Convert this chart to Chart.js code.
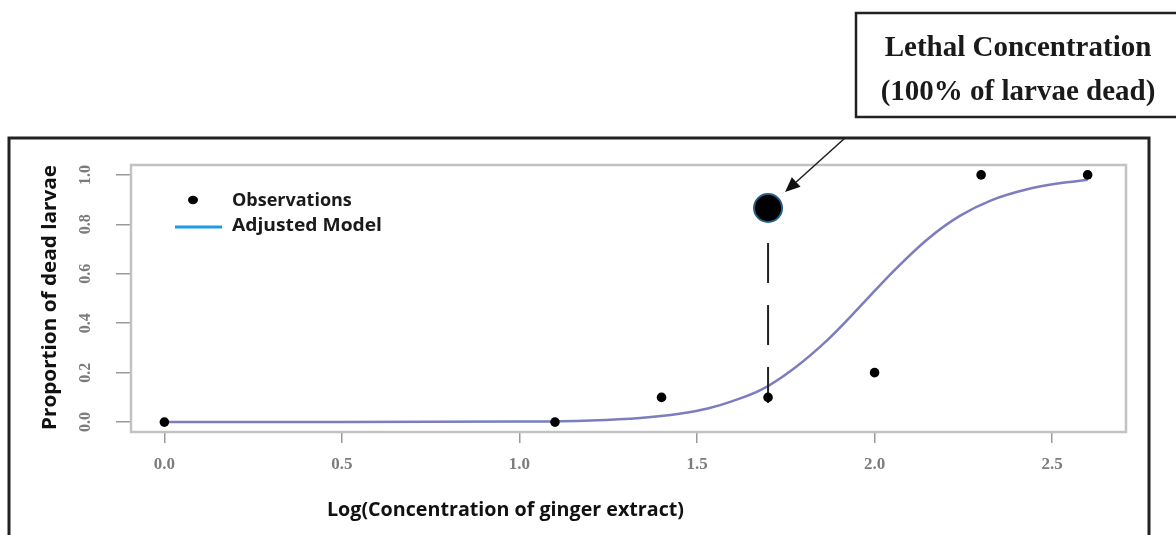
<!DOCTYPE html>
<html><head><meta charset="utf-8">
<script src="https://cdn.jsdelivr.net/npm/chart.js@4.4.1/dist/chart.umd.min.js"></script>
<style>html,body{margin:0;padding:0;background:#fff;}canvas{display:block;}</style>
</head><body>
<canvas id="c" width="1176" height="535"></canvas>
<script>
// ---- data ----
const obsX = [0.0, 1.1, 1.4, 1.7, 2.0, 2.3, 2.6];
const obsY = [0.0, 0.0, 0.1, 0.1, 0.2, 1.0, 1.0];
const modelX = [0.0, 0.5, 1.0, 1.2, 1.34, 1.45, 1.53, 1.6, 1.68, 1.77, 1.87, 1.96, 2.05, 2.15, 2.24, 2.33, 2.43, 2.52, 2.6];
const modelY = [0.0, 0.0, 0.002, 0.007, 0.017, 0.034, 0.055, 0.085, 0.13, 0.214, 0.336, 0.469, 0.606, 0.741, 0.834, 0.898, 0.942, 0.966, 0.98];
const lcX = [1.7];
const lcY = [0.866];
const dropX = [1.7, 1.7];
const dropY = [0.725, 0.077];
const xTicks = [0.0, 0.5, 1.0, 1.5, 2.0, 2.5];
const xTickLabels = ['0.0', '0.5', '1.0', '1.5', '2.0', '2.5'];
const yTicks = [0.0, 0.2, 0.4, 0.6, 0.8, 1.0];
const yTickLabels = ['0.0', '0.2', '0.4', '0.6', '0.8', '1.0'];
const legendLabels = ['Observations', 'Adjusted Model'];
const xTitle = 'Log(Concentration of ginger extract)';
const yTitle = 'Proportion of dead larvae';
const noteLines = ['Lethal Concentration', '(100% of larvae dead)'];

const pts = (xs, ys) => xs.map((x, i) => ({x: x, y: ys[i]}));

// draw text stretched horizontally to a target width (left-aligned at x)
function fitText(c, txt, x, y, w) {
  const m = c.measureText(txt).width;
  c.save(); c.translate(x, y); c.scale(w / m, 1); c.textAlign = 'left';
  c.fillText(txt, 0, 0); c.restore();
}

const decor = {
  id: 'decor',
  beforeDraw(chart) {
    const c = chart.ctx;
    c.save(); c.fillStyle = '#fff'; c.fillRect(0, 0, chart.width, chart.height); c.restore();
  },
  beforeDatasetsDraw(chart) {
    const c = chart.ctx, a = chart.chartArea;
    c.save();
    c.strokeStyle = '#c2c2c2'; c.lineWidth = 2.5;
    c.strokeRect(a.left, a.top, a.right - a.left, a.bottom - a.top);
    c.restore();
  },
  afterDraw(chart) {
    const c = chart.ctx, a = chart.chartArea;
    const ys = chart.scales.y, xs = chart.scales.x;
    c.save();
    // y tick labels (rotated, R style)
    c.fillStyle = '#7c7c7c';
    c.font = 'bold 16px "Liberation Serif", serif';
    c.textAlign = 'center'; c.textBaseline = 'middle';
    yTicks.forEach((v, i) => {
      const py = ys.getPixelForValue(v);
      c.save(); c.translate(a.left - 45, py); c.rotate(-Math.PI / 2);
      c.fillText(yTickLabels[i], 0, 0); c.restore();
    });
    // axis titles
    c.fillStyle = '#111';
    c.font = 'bold 19px "Open Sans", sans-serif';
    c.save(); c.translate(51, 430); c.rotate(-Math.PI / 2);
    fitText(c, yTitle, 0, 0, 265); c.restore();
    fitText(c, xTitle, 327, 511, 357);
    // legend
    c.font = 'bold 18px "Open Sans", sans-serif';
    c.textAlign = 'left';
    c.fillStyle = '#000';
    c.beginPath(); c.ellipse(a.left + 62, a.top + 35, 5, 4.2, 0, 0, Math.PI * 2); c.fill();
    c.fillStyle = '#1a1a1a';
    c.fillText(legendLabels[0], a.left + 101, a.top + 36);
    c.strokeStyle = '#1e9de3'; c.lineWidth = 3;
    c.beginPath(); c.moveTo(a.left + 44, a.top + 62); c.lineTo(a.left + 91, a.top + 62); c.stroke();
    fitText(c, legendLabels[1], a.left + 101, a.top + 61, 150);
    // outer frame
    c.strokeStyle = '#222'; c.lineWidth = 3;
    c.beginPath(); c.moveTo(9, 540); c.lineTo(9, 138); c.lineTo(1149, 138); c.lineTo(1149, 540); c.stroke();
    // annotation box
    c.lineWidth = 2.5;
    c.strokeRect(856, 13, 340, 104);
    c.fillStyle = '#1a1a1a';
    c.font = 'bold 29px "Liberation Serif", serif';
    c.textAlign = 'center';
    c.fillText(noteLines[0], 1018, 49);
    c.fillText(noteLines[1], 1018, 93);
    // arrow to the highlighted point
    const tx = xs.getPixelForValue(lcX[0]) + 17, ty = ys.getPixelForValue(lcY[0]) - 16;
    const sx = 845, sy = 138;
    const ang = Math.atan2(ty - sy, tx - sx);
    const hl = 15, hw = 6.5;
    const bx = tx - hl * Math.cos(ang), by = ty - hl * Math.sin(ang);
    c.strokeStyle = '#222'; c.lineWidth = 1.6;
    c.beginPath(); c.moveTo(sx, sy); c.lineTo(bx, by); c.stroke();
    c.fillStyle = '#111';
    c.beginPath();
    c.moveTo(tx, ty);
    c.lineTo(bx + hw * Math.sin(ang), by - hw * Math.cos(ang));
    c.lineTo(bx - hw * Math.sin(ang), by + hw * Math.cos(ang));
    c.closePath(); c.fill();
    c.restore();
  }
};

new Chart(document.getElementById('c'), {
  type: 'scatter',
  data: {
    datasets: [
      { label: 'Adjusted Model', type: 'line', data: pts(modelX, modelY), borderColor: '#7b7dbf', borderWidth: 2.5,
        pointRadius: 0, cubicInterpolationMode: 'monotone', fill: false, order: 3 },
      { label: 'LC line', type: 'line', data: pts(dropX, dropY), borderColor: '#222', borderWidth: 2,
        borderDash: [40, 22], pointRadius: 0, fill: false, order: 2 },
      { label: 'Observations', data: pts(obsX, obsY), backgroundColor: '#000', borderColor: '#000',
        pointRadius: 4.8, borderWidth: 0, order: 1 },
      { label: 'Lethal', data: pts(lcX, lcY), backgroundColor: '#000', borderColor: '#245f8c',
        pointRadius: 14, borderWidth: 2, order: 0 }
    ]
  },
  options: {
    responsive: false, devicePixelRatio: 1, animation: false,
    layout: { padding: { left: 91, top: 165, right: 50, bottom: 43 } },
    plugins: { legend: { display: false }, tooltip: { enabled: false } },
    scales: {
      x: {
        type: 'linear', min: -0.094, max: 2.708,
        afterBuildTicks: s => { s.ticks = xTicks.map(v => ({value: v})); },
        afterFit: s => { s.height = 60; },
        ticks: { callback: (v) => xTickLabels[xTicks.indexOf(v)], color: '#7c7c7c',
          font: { family: '"Liberation Serif", serif', size: 17, weight: 'bold' }, padding: 11, maxRotation: 0, autoSkip: false },
        grid: { drawOnChartArea: false, drawTicks: true, tickLength: 11, color: '#9a9a9a', lineWidth: 1.5 },
        border: { display: false }
      },
      y: {
        type: 'linear', min: -0.04, max: 1.04,
        afterBuildTicks: s => { s.ticks = yTicks.map(v => ({value: v})); },
        afterFit: s => { s.width = 40; },
        ticks: { display: false },
        grid: { drawOnChartArea: false, drawTicks: true, tickLength: 15, color: '#9a9a9a', lineWidth: 1.5 },
        border: { display: false }
      }
    }
  },
  plugins: [decor]
});
</script>
</body></html>
